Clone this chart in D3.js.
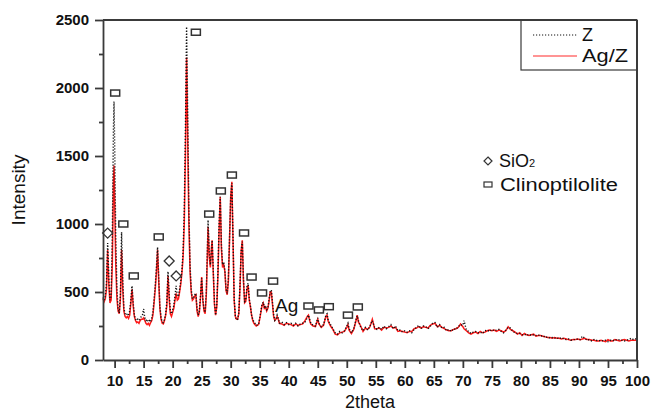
<!DOCTYPE html>
<html><head><meta charset="utf-8">
<script src="https://cdn.jsdelivr.net/npm/d3@7/dist/d3.min.js"></script>
<style>
body{margin:0;background:#fff;}
svg{display:block;font-family:"Liberation Sans",Arial,sans-serif;}
</style></head>
<body><svg id="c" width="652" height="412"></svg>
<script>
const twoTheta = [8.0,8.2,8.4,8.6,8.8,9.0,9.2,9.4,9.6,9.8,9.9,10.0,10.2,10.4,10.6,10.8,11.0,11.2,11.4,11.6,11.8,12.0,12.2,12.4,12.6,12.8,13.0,13.2,13.4,13.6,13.8,14.0,14.2,14.4,14.6,14.8,15.0,15.2,15.4,15.6,15.8,16.0,16.2,16.4,16.6,16.8,17.0,17.2,17.4,17.6,17.8,18.0,18.2,18.4,18.6,18.8,19.0,19.2,19.4,19.6,19.8,20.0,20.2,20.4,20.6,20.8,21.0,21.2,21.4,21.6,21.8,22.0,22.2,22.4,22.6,22.8,23.0,23.2,23.4,23.6,23.8,24.0,24.2,24.4,24.6,24.8,25.0,25.2,25.4,25.6,25.8,26.0,26.1,26.3,26.5,26.7,26.8,27.0,27.2,27.4,27.6,27.8,28.0,28.2,28.4,28.6,28.8,29.0,29.2,29.4,29.6,29.8,30.0,30.2,30.4,30.6,30.8,31.0,31.2,31.4,31.6,31.8,32.0,32.2,32.4,32.6,32.8,33.0,33.2,33.4,33.6,33.8,34.0,34.4,34.8,35.0,35.2,35.4,35.6,35.8,36.0,36.2,36.4,36.6,36.8,37.0,37.2,37.4,37.6,37.8,38.0,38.2,38.4,38.8,39.2,39.6,40.0,40.4,40.8,41.2,41.6,42.0,42.4,42.8,43.2,43.4,43.6,43.8,44.2,44.6,45.0,45.2,45.6,46.0,46.4,46.6,46.8,47.2,47.6,48.0,48.4,48.8,49.2,49.6,50.0,50.2,50.4,50.8,51.2,51.6,51.8,52.0,52.4,52.8,53.2,53.6,54.0,54.4,54.8,55.2,55.6,56.0,56.4,56.8,57.2,57.6,58.0,58.4,58.8,59.2,59.6,60.0,60.4,60.8,61.2,61.6,62.0,62.4,62.8,63.2,63.6,64.0,64.4,64.8,65.2,65.6,66.0,66.4,66.8,67.2,67.6,68.0,68.4,68.8,69.2,69.6,70.0,70.2,70.6,71.0,71.4,71.8,72.2,72.6,73.0,73.4,73.8,74.2,74.6,75.0,75.4,75.8,76.2,76.6,77.0,77.4,77.8,78.2,78.6,79.0,79.4,79.8,80.2,80.6,81.0,81.4,81.8,82.2,82.6,83.0,83.4,83.8,84.2,84.6,85.0,85.4,85.8,86.2,86.6,87.0,87.4,87.8,88.2,88.6,89.0,89.4,89.8,90.2,90.6,91.0,91.4,91.8,92.2,92.6,93.0,93.4,93.8,94.2,94.6,95.0,95.4,95.8,96.2,96.6,97.0,97.4,97.8,98.2,98.6,99.0,99.4,99.8,100.0];
const zCounts = [460,440,470,560,860,620,440,470,900,1700,1900,1600,900,520,380,345,480,940,600,380,340,330,340,330,360,440,545,420,330,300,290,300,290,300,320,330,375,310,290,300,280,290,280,310,350,450,550,680,830,620,400,310,280,275,300,340,430,650,480,360,340,370,400,470,545,470,470,520,580,660,800,1100,1700,2450,1800,1100,700,520,450,460,480,490,380,330,360,470,600,450,370,350,500,850,1030,800,700,820,880,650,420,330,400,650,1000,1200,850,700,720,660,520,490,600,900,1200,1300,900,450,320,295,300,350,550,800,870,600,430,440,540,565,450,400,330,300,280,255,260,310,360,410,425,390,400,370,380,440,500,515,420,330,290,300,330,305,270,280,260,275,260,270,255,270,250,265,270,280,310,330,300,270,255,250,310,270,245,260,330,340,290,260,230,200,190,210,200,215,250,270,230,200,230,300,325,290,240,215,240,220,250,290,240,225,240,225,250,230,245,260,230,250,215,220,205,215,205,215,200,225,240,255,230,250,245,230,250,270,275,240,260,235,240,215,225,210,230,225,245,260,255,290,220,210,195,205,210,200,205,195,215,220,210,225,215,220,225,210,200,220,240,235,210,200,195,195,185,190,180,190,180,185,180,185,175,180,165,170,160,165,160,165,155,165,155,150,155,145,150,150,155,150,175,160,145,150,140,150,145,140,145,140,145,135,145,140,150,145,150,145,140,145,150,160,150,155,145];
const agzCounts = [450,430,450,520,810,560,420,440,700,1300,1430,1200,700,450,360,340,450,810,520,360,320,310,320,305,330,420,520,400,320,290,275,280,270,290,300,300,310,290,270,260,270,255,275,290,330,420,520,640,810,580,380,300,270,265,290,330,400,620,450,340,320,350,380,440,490,440,450,500,560,640,760,1000,1500,2225,1600,1000,650,500,440,450,470,480,360,320,350,460,610,440,360,340,480,800,980,760,680,830,880,640,410,330,390,620,950,1200,820,680,700,650,510,480,580,880,1200,1310,880,440,320,300,300,340,530,800,880,580,420,430,520,550,440,390,330,290,270,250,260,300,350,400,420,380,390,360,380,430,500,500,410,320,290,300,320,300,270,265,255,270,265,260,250,265,255,260,265,290,320,330,290,265,250,245,300,265,240,255,320,330,285,250,225,190,185,200,205,210,240,260,220,195,225,290,330,280,250,210,235,225,245,300,230,230,235,220,240,235,240,250,235,240,210,215,210,205,200,210,210,230,235,245,235,245,240,235,255,265,270,245,255,240,230,220,215,215,225,230,240,265,245,230,215,200,190,200,205,195,210,200,205,215,220,215,220,210,220,215,205,215,245,225,215,205,190,200,180,195,185,180,185,190,175,180,180,175,170,165,165,160,165,160,160,155,160,155,150,145,150,150,155,150,155,160,150,150,145,145,140,140,145,140,135,150,140,140,150,145,140,145,150,145,140,145,145,145,150,145];

const clinoX = [10.1,24.0,11.5,13.3,17.6,26.3,28.3,30.2,32.3,33.6,35.4,37.3,43.4,45.2,46.9,50.2,51.9];
const clinoY = [1963,2410,1000,618,905,1073,1243,1360,934,610,493,580,397,368,392,330,390];
const sioX = [8.8,19.4,20.6];
const sioY = [933,728,618];

const xMajorTicks = [10,15,20,25,30,35,40,45,50,55,60,65,70,75,80,85,90,95,100];
const xMinorTicks = [12.5,17.5,22.5,27.5,32.5,37.5,42.5,47.5,52.5,57.5,62.5,67.5,72.5,77.5,82.5,87.5,92.5,97.5];
const yMajorTicks = [0,500,1000,1500,2000,2500];
const yMinorTicks = [250,750,1250,1750,2250];

const svg = d3.select("#c");
const x = d3.scaleLinear().domain([8,100]).range([103,637]);
const y = d3.scaleLinear().domain([0,2500]).range([360,20]);
const axisColor = "#3a3a3a";
const FF = "'Liberation Sans', Arial, sans-serif";

// data lines
const agzData = twoTheta.map((d,i)=>[d,agzCounts[i]]);
const zData = twoTheta.map((d,i)=>[d,zCounts[i]]);
const line = d3.line().x(d=>x(d[0])).y(d=>y(d[1]));
svg.append("path").attr("d",line(agzData)).attr("fill","none").attr("stroke","#ff1a1a").attr("stroke-width",1.5);
svg.append("path").attr("d",line(zData)).attr("fill","none").attr("stroke","#111").attr("stroke-width",1.4).attr("stroke-dasharray","1.2,1.8");

// axes
function styleAxis(g){
  g.attr("font-family",FF).attr("font-size",15).attr("font-weight","bold");
  g.selectAll("line,path").attr("stroke",axisColor).attr("stroke-width",1.8);
  g.selectAll("text").attr("fill","#111");
}
const gx = svg.append("g").attr("transform","translate(0,360)");
gx.call(d3.axisBottom(x).tickValues(xMinorTicks).tickSize(4).tickFormat(""));
gx.call(g=>g.select(".domain").remove());
styleAxis(gx);
const gx2 = svg.append("g").attr("transform","translate(0,360)");
gx2.call(d3.axisBottom(x).tickValues(xMajorTicks).tickSize(8).tickPadding(4).tickFormat(d3.format("d")).tickSizeOuter(0));
styleAxis(gx2);
gx2.selectAll("text").attr("dy","0.95em");

const gy = svg.append("g").attr("transform","translate(103,0)");
gy.call(d3.axisLeft(y).tickValues(yMinorTicks).tickSize(4).tickFormat(""));
gy.call(g=>g.select(".domain").remove());
styleAxis(gy);
const gy2 = svg.append("g").attr("transform","translate(103,0)");
gy2.call(d3.axisLeft(y).tickValues(yMajorTicks).tickSize(8).tickPadding(6).tickFormat(d3.format("d")).tickSizeOuter(0));
styleAxis(gy2);

// axis titles
svg.append("text").attr("x",370).attr("y",408).attr("text-anchor","middle").attr("font-family",FF).attr("font-size",18).attr("fill","#111").text("2theta");
svg.append("text").attr("transform","translate(25,190) rotate(-90)").attr("text-anchor","middle").attr("font-family",FF).attr("font-size",19).attr("fill","#111").text("Intensity");

// markers
svg.selectAll("rect.cl").data(clinoX.map((d,i)=>[d,clinoY[i]])).join("rect").attr("class","cl")
  .attr("x",d=>x(d[0])-4.5).attr("y",d=>y(d[1])-3).attr("width",9).attr("height",6)
  .attr("fill","none").attr("stroke","#333").attr("stroke-width",1.5);
const diamond = (cx,cy,r)=>`M${cx},${cy-r}L${cx+r},${cy}L${cx},${cy+r}L${cx-r},${cy}Z`;
svg.selectAll("path.si").data(sioX.map((d,i)=>[d,sioY[i]])).join("path").attr("class","si")
  .attr("d",d=>diamond(x(d[0]),y(d[1]),5)).attr("fill","none").attr("stroke","#333").attr("stroke-width",1.3);

// Ag annotation
svg.append("text").attr("x",275).attr("y",312).attr("font-family",FF).attr("font-size",19).attr("fill","#111").text("Ag");

// phase legend
svg.append("path").attr("d",diamond(488,161,4)).attr("fill","none").attr("stroke","#333").attr("stroke-width",1.2);
svg.append("text").attr("x",499).attr("y",167).attr("font-family",FF).attr("font-size",18).attr("fill","#111").text("SiO").append("tspan").attr("font-size","11px").text("2");
svg.append("rect").attr("x",484).attr("y",182).attr("width",8).attr("height",5).attr("fill","none").attr("stroke","#333").attr("stroke-width",1.2);
svg.append("text").attr("x",500).attr("y",191).attr("textLength",118).attr("lengthAdjust","spacingAndGlyphs").attr("font-family",FF).attr("font-size",18).attr("fill","#111").text("Clinoptilolite");

// series legend
svg.append("rect").attr("x",521).attr("y",20).attr("width",116).attr("height",50).attr("fill","#fff").attr("stroke",axisColor).attr("stroke-width",1.2);
svg.append("line").attr("x1",533).attr("x2",577).attr("y1",35).attr("y2",35).attr("stroke","#111").attr("stroke-width",1).attr("stroke-dasharray","1.2,1.8");
svg.append("line").attr("x1",533).attr("x2",577).attr("y1",56).attr("y2",56).attr("stroke","#ff7070").attr("stroke-width",1.5);
svg.append("text").attr("x",582).attr("y",41).attr("font-family",FF).attr("font-size",18).attr("fill","#111").text("Z");
svg.append("text").attr("x",582).attr("y",62).attr("textLength",46).attr("lengthAdjust","spacingAndGlyphs").attr("font-family",FF).attr("font-size",18).attr("fill","#111").text("Ag/Z");

// frame
svg.append("line").attr("x1",103).attr("x2",637).attr("y1",20).attr("y2",20).attr("stroke",axisColor).attr("stroke-width",2);
svg.append("line").attr("x1",637).attr("x2",637).attr("y1",20).attr("y2",360).attr("stroke",axisColor).attr("stroke-width",2);
</script></body></html>
